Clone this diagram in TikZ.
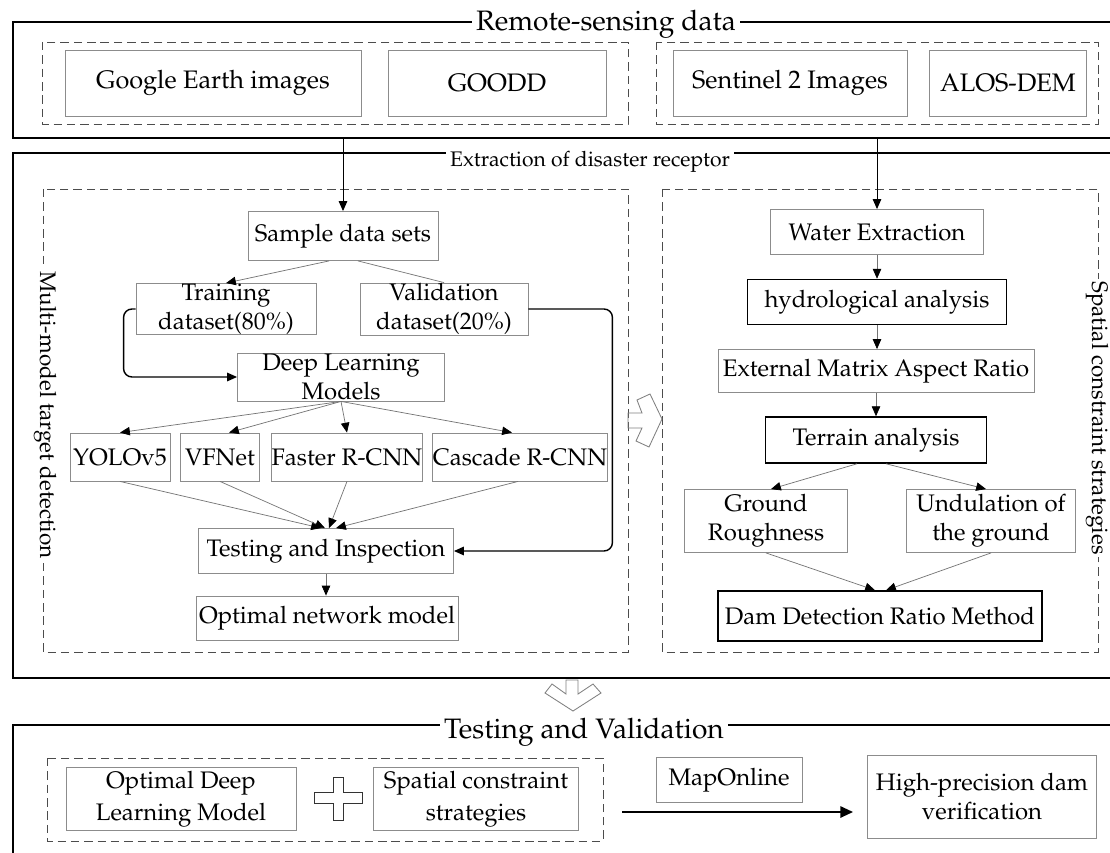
\documentclass[tikz,border=0pt]{standalone}
\usepackage[T1]{fontenc}
\usepackage{mathpazo}
\usetikzlibrary{arrows.meta}

\begin{document}
\begin{tikzpicture}[x=0.025cm, y=-0.025cm,
  box/.style={draw=black!45, line width=0.6pt, inner sep=0pt, align=center, font=\fontsize{17}{20.5}\selectfont},
  boldbox/.style={box, draw=black, line width=1.1pt},
  topbox/.style={box, font=\fontsize{18}{21}\selectfont},
  frame/.style={draw=black, line width=1.1pt},
  dashbox/.style={draw=black!70, line width=0.6pt, dash pattern=on 6pt off 3.5pt},
  title/.style={fill=white, inner sep=3pt, anchor=base, font=\fontsize{20}{24}\selectfont},
  side/.style={fill=white, inner sep=2pt, rotate=-90, font=\fontsize{16}{19}\selectfont},
  thin/.style={draw=black!55, line width=0.5pt, -{Triangle[length=7pt,width=6pt,color=black]}},
  main/.style={draw=black, line width=0.7pt, -{Triangle[length=7pt,width=6pt]}},
  loop/.style={draw=black, line width=1pt, rounded corners=6pt, -{Triangle[length=7pt,width=6pt]}},
  hollow/.style={draw=black!50, line width=0.6pt}]

\clip (0,0) rectangle (1110,853);
\fill[white] (0,0) rectangle (1110,853);

% frames
\draw[frame] (13,22) rectangle (1125,138);
\draw[frame] (13,153) rectangle (1125,678);
\draw[frame] (13,725) rectangle (1125,870);
\node[title] (t1) at (606,31) {Remote-sensing data};
\node[title, font=\fontsize{15}{18}\selectfont] (t2) at (590,167) {Extraction of disaster receptor};
\node[title] (t3) at (584,738) {Testing and Validation};

\draw[dashbox] (42,42) rectangle (628,124);
\draw[dashbox] (656,42) rectangle (1098,124);
\draw[dashbox] (43,189) rectangle (628,652);
\draw[dashbox] (662,189) rectangle (1098,652);
\draw[dashbox] (47,758) rectangle (603,841);
\node[side] (mlabel) at (45,415) {Multi-model target detection};
\node[side] (slabel) at (1097,418) {Spatial constraint strategies};

% remote-sensing data
\node[topbox, minimum width=7.4cm, minimum height=1.65cm] (gee) at (213,83) {Google Earth images};
\node[topbox, minimum width=5.45cm, minimum height=1.65cm] (goodd) at (497,83) {GOODD};
\node[topbox, minimum width=5.85cm, minimum height=1.65cm] (senti) at (790,83) {Sentinel 2 Images};
\node[topbox, minimum width=3.925cm, minimum height=1.65cm] (alos) at (1008,83) {ALOS-DEM};
\coordinate (rs1) at (343,138);
\coordinate (rs2) at (877,138);

% multi-model target detection
\node[box, minimum width=4.75cm, minimum height=1.225cm] (sample) at (343,236) {Sample data sets};
\node[box, minimum width=4.5cm, minimum height=1.275cm] (train) at (226,309) {Training\\dataset(80\%)};
\node[box, minimum width=4.2cm, minimum height=1.3cm] (val) at (444,309) {Validation\\dataset(20\%)};
\node[box, minimum width=5.175cm, minimum height=1.2cm] (dl) at (341,377) {Deep Learning\\Models};
\node[box, minimum width=2.5cm, minimum height=1.2cm] (yolo) at (120,457) {YOLOv5};
\node[box, minimum width=1.975cm, minimum height=1.2cm] (vfnet) at (220,457) {VFNet};
\node[box, minimum width=3.775cm, minimum height=1.2cm] (faster) at (347,457) {Faster R-CNN};
\node[box, minimum width=4.325cm, minimum height=1.2cm] (cascade) at (520,457) {Cascade R-CNN};
\node[box, minimum width=6.375cm, minimum height=1.125cm] (test) at (326,551) {Testing and Inspection};
\node[box, minimum width=6.55cm, minimum height=1.1cm] (optimal) at (327,618) {Optimal network model};

\draw[main] (rs1) -- (sample.north);
\draw[thin] (sample.south) ++(-14,0) -- (train.north);
\draw[draw=black!55, line width=0.5pt] (sample.south) ++(15,0) -- (val.north);
\draw[loop] (train.west) -- ++(-12,0) |- (dl.west);
\draw[loop] (val.east) -- ++(84,0) |- (test.east);
\draw[thin] (dl.south) -- (yolo.north);
\draw[thin] (dl.south) -- ([xshift=0.225cm]vfnet.north);
\draw[thin] (dl.south) -- (faster.north);
\draw[thin] (dl.south) -- ([xshift=-0.2cm]cascade.north);
\draw[thin] (yolo.south) -- ([xshift=-0.125cm]test.north);
\draw[thin] (vfnet.south) -- ([xshift=-0.025cm]test.north);
\draw[thin] (faster.south) -- ([xshift=0.075cm]test.north);
\draw[thin] ([xshift=-0.05cm]cascade.south) -- ([xshift=0.25cm]test.north);
\draw[thin] (test.south) -- (test.south |- optimal.north);

% spatial constraint strategies
\node[box, minimum width=5.325cm, minimum height=1.125cm] (water) at (877,232) {Water Extraction};
\node[boldbox, minimum width=6.475cm, minimum height=1.125cm] (hydro) at (877,302) {hydrological analysis};
\node[box, minimum width=7.9cm, minimum height=1.075cm] (ext) at (876,371) {External Matrix Aspect Ratio};
\node[boldbox, minimum width=5.525cm, minimum height=1.15cm] (terrain) at (876,440) {Terrain analysis};
\node[box, minimum width=4.075cm, minimum height=1.575cm] (rough) at (766,521) {Ground\\Roughness};
\node[box, minimum width=4.225cm, minimum height=1.575cm] (undul) at (991,521) {Undulation of\\the ground};
\node[boldbox, minimum width=8.1cm, minimum height=1.25cm] (dam) at (880,616) {Dam Detection Ratio Method};

\draw[main] (rs2) -- (water.north);
\draw[thin] (water.south) -- (hydro.north);
\draw[thin] (hydro.south) -- (ext.north -| hydro.south);
\draw[thin] (ext.south) -- (terrain.north);
\draw[thin] ([xshift=-0.475cm]terrain.south) -- ([xshift=0.125cm]rough.north);
\draw[thin] ([xshift=0.25cm]terrain.south) -- ([xshift=-0.125cm]undul.north);
\draw[thin] (rough.south) -- ([xshift=-0.125cm]dam.north);
\draw[thin] (undul.south) -- ([xshift=0.15cm]dam.north);

% hollow arrows
\draw[hollow] (628,413) -- (642,413) -- (637,400) -- (650,394) -- (662,419) -- (649,447) -- (636,441) -- (642,428) -- (628,428) -- cycle;
\draw[hollow] (566,680) -- (578,680) -- (578,694) -- (593,684) -- (601,693) -- (573,711) -- (545,693) -- (552,684) -- (566,694) -- cycle;

% testing and validation
\node[box, minimum width=5.75cm, minimum height=1.575cm, font=\fontsize{17}{23}\selectfont] (odlm) at (181,799) {Optimal Deep\\Learning Model};
\node[box, minimum width=5.125cm, minimum height=1.575cm, font=\fontsize{17}{23}\selectfont] (scs) at (476,799) {Spatial constraint\\strategies};
\draw[draw=black!80, line width=0.6pt] (333,777) -- (343,777) -- (343,792) -- (362,792) -- (362,803) -- (343,803) -- (343,820) -- (333,820) -- (333,803) -- (314,803) -- (314,792) -- (333,792) -- cycle;
\node[box, minimum width=3.65cm, minimum height=1.125cm] (map) at (729,780) {MapOnline};
\node[box, minimum width=5.725cm, minimum height=2.075cm] (hpdv) at (982,797) {High-precision dam\\verification};
\coordinate (mstart) at (622,812);
\draw[draw=black, line width=1.4pt, shorten >=0.35cm, -{Triangle[length=9pt,width=8pt]}] (mstart) -- (hpdv.west |- mstart);

\end{tikzpicture}
\end{document}
